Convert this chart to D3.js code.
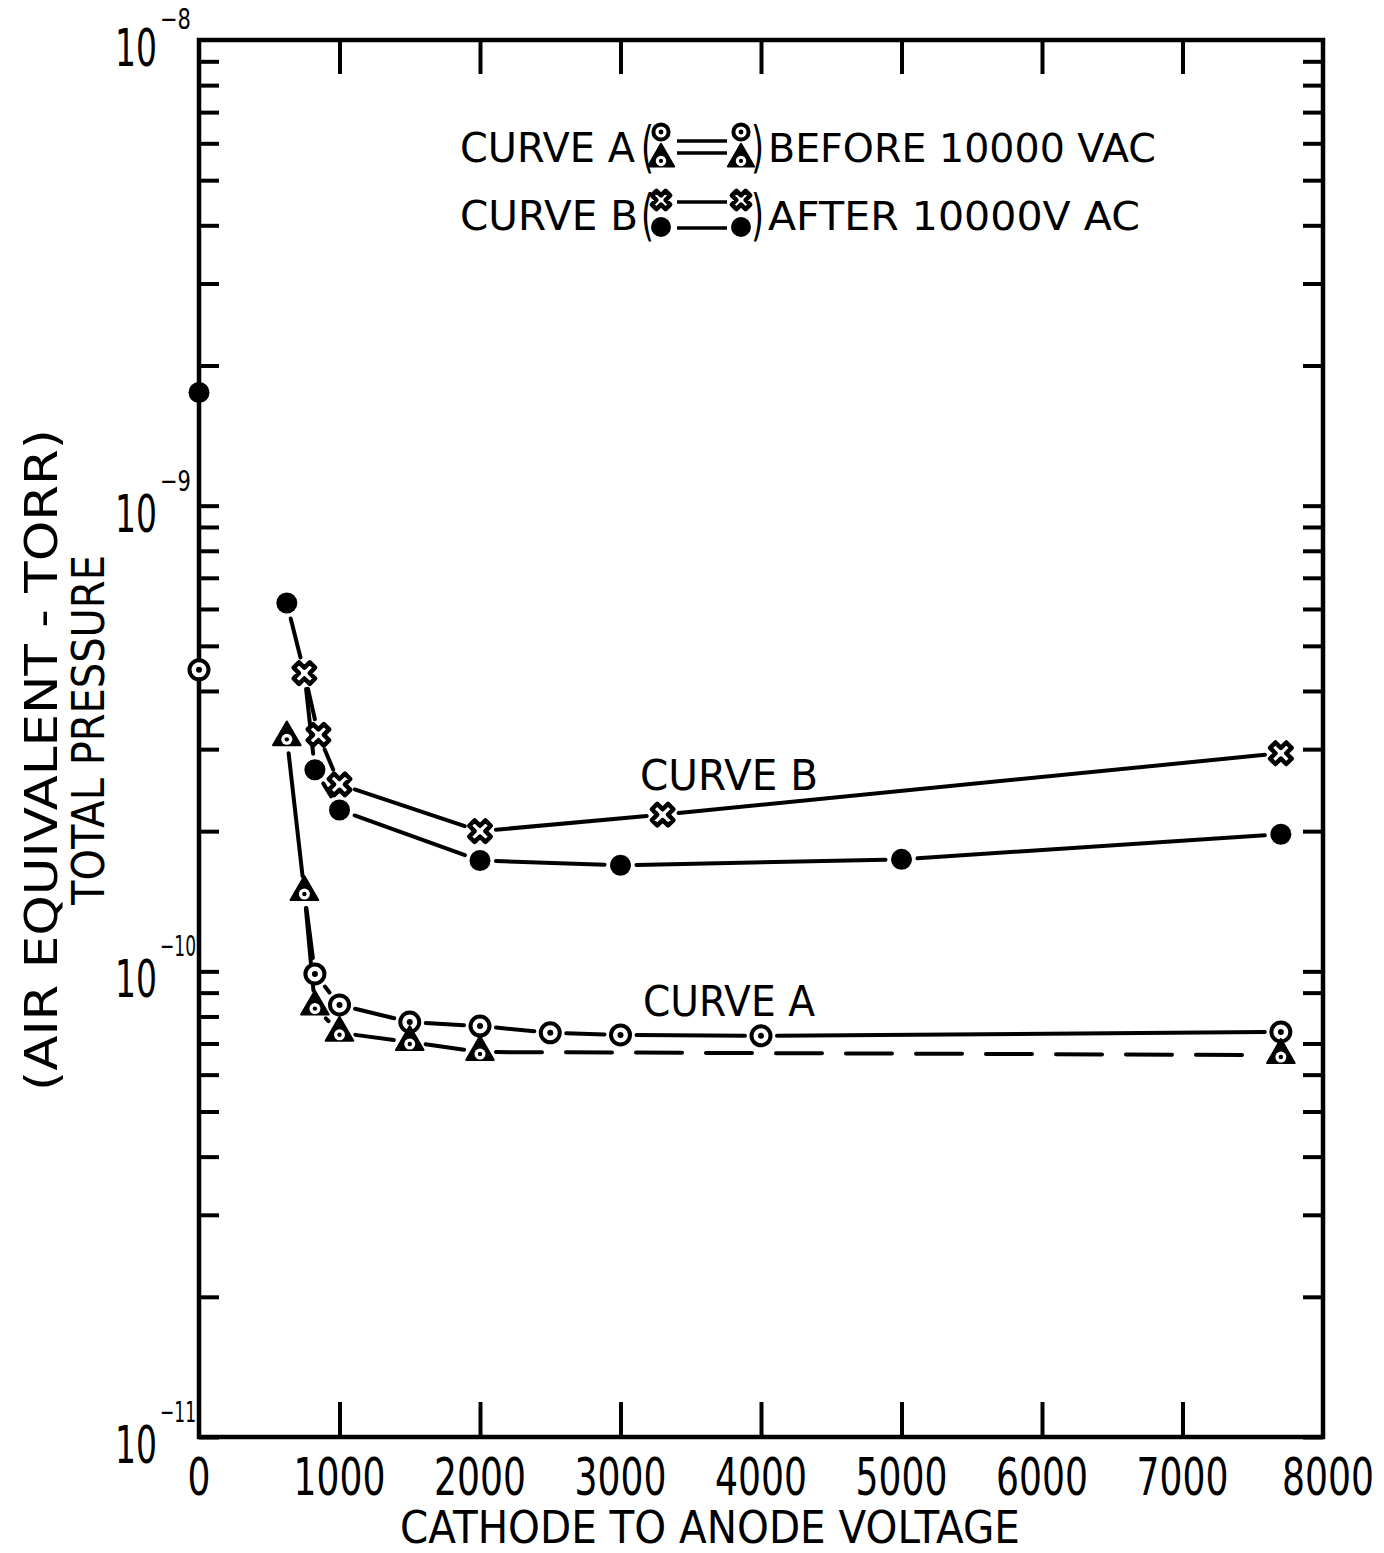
<!DOCTYPE html>
<html>
<head>
<meta charset="utf-8">
<script src="https://cdn.jsdelivr.net/npm/d3@7"></script>
<style>
  html, body { margin: 0; padding: 0; background: #fff; }
  svg { display: block; }
  text { font-family: "DejaVu Sans", "Liberation Sans", sans-serif; fill: #000; }
</style>
</head>
<body>
<svg id="chart" width="1384" height="1553"></svg>
<script>
// ---- data -------------------------------------------------------------
// Curve A, before 10000 V AC : triangles and dotted circles
const triVolts   = [625, 750, 825, 1000, 1500, 2000, 7700];
const triTorr    = [3.18e-10, 1.48e-10, 8.4e-11, 7.38e-11, 7.05e-11, 6.71e-11, 6.61e-11];
const circVolts  = [0, 825, 1000, 1500, 2000, 2500, 3000, 4000, 7700];
const circTorr   = [4.44e-10, 9.87e-11, 8.47e-11, 7.78e-11, 7.63e-11, 7.38e-11, 7.30e-11, 7.27e-11, 7.41e-11];
// Curve B, after 10000 V AC : crosses and filled dots
const crossVolts = [750, 850, 1000, 2000, 3300, 7700];
const crossTorr  = [4.37e-10, 3.22e-10, 2.52e-10, 2.0e-10, 2.17e-10, 2.94e-10];
const dotVolts   = [0, 625, 825, 1000, 2000, 3000, 5000, 7700];
const dotTorr    = [1.75e-9, 6.18e-10, 2.71e-10, 2.22e-10, 1.73e-10, 1.69e-10, 1.74e-10, 1.97e-10];

// axis ticks and labels
const xTickLabels = ["0", "1000", "2000", "3000", "4000", "5000", "6000", "7000", "8000"];
const xTickValues = [0, 1000, 2000, 3000, 4000, 5000, 6000, 7000, 8000];
const yDecadeExp  = [-8, -9, -10, -11];

const legendRows = [
  { name: "CURVE A", text: "BEFORE 10000 VAC", top: "circ", bottom: "tri" },
  { name: "CURVE B", text: "AFTER 10000V AC",  top: "cross", bottom: "dot" }
];

// ---- layout -----------------------------------------------------------
const svg = d3.select("#chart");
const X0 = 199, X1 = 1323, Y0 = 40, Y1 = 1437;
const x = d3.scaleLinear().domain([0, 8000]).range([X0, X1]);
const y = d3.scaleLog().domain([1e-11, 1e-8]).range([Y1, Y0]);

const pts = (xs, ys) => xs.map((v, i) => ({ v, p: ys[i] }));
const tri   = pts(triVolts, triTorr);
const circ  = pts(circVolts, circTorr);
const cross = pts(crossVolts, crossTorr);
const dot   = pts(dotVolts, dotTorr);

// narrow lettering: set a string at a given size, then squeeze it horizontally to a width
function lettering(parent, { x, y, text, size, width, anchor = "start", rotate = 0 }) {
  const g = parent.append("g").attr("transform", `translate(${x},${y}) rotate(${rotate})`);
  const t = g.append("text").attr("font-size", size).attr("text-anchor", anchor).text(text);
  const w = t.node().getComputedTextLength();
  t.attr("transform", `scale(${width / w},1)`);
  return t;
}

// ticks on the log axis (1..9 in each decade)
const minorTicks = [];
for (let e = -11; e < -8; e++) for (let m = 1; m <= 9; m++) minorTicks.push(m * Math.pow(10, e));

// ---- axes ticks ---------------------------------------------------------
const axisStyle = g => {
  g.select(".domain").remove();
  g.selectAll("line").attr("stroke", "#000").attr("stroke-width", 4);
};

svg.append("g").attr("transform", `translate(${X0},0)`)
  .call(d3.axisRight(y).tickValues(minorTicks).tickSizeInner(20).tickSizeOuter(0).tickFormat(""))
  .call(axisStyle);
svg.append("g").attr("transform", `translate(${X1},0)`)
  .call(d3.axisLeft(y).tickValues(minorTicks.filter(t => Math.abs(t / 8e-11 - 1) > 1e-6))
        .tickSizeInner(20).tickSizeOuter(0).tickFormat(""))
  .call(axisStyle);
svg.append("g").attr("transform", `translate(0,${Y0})`)
  .call(d3.axisBottom(x).tickValues(xTickValues.slice(1, -1)).tickSizeInner(34).tickSizeOuter(0).tickFormat(""))
  .call(axisStyle);
svg.append("g").attr("transform", `translate(0,${Y1})`)
  .call(d3.axisTop(x).tickValues(xTickValues.slice(1, -1)).tickSizeInner(35).tickSizeOuter(0).tickFormat(""))
  .call(axisStyle);

// x tick labels
const xLabels = svg.append("g");
xTickValues.forEach((v, i) => {
  const last = i === xTickValues.length - 1;
  lettering(xLabels, {
    x: last ? 1374 : x(v), y: 1495, text: xTickLabels[i], size: 51,
    width: xTickLabels[i].length * 23, anchor: last ? "end" : "middle"
  });
});

// frame
svg.append("rect").attr("x", X0).attr("y", Y0).attr("width", X1 - X0).attr("height", Y1 - Y0)
  .attr("fill", "none").attr("stroke", "#000").attr("stroke-width", 4.5);

// y decade labels with raised exponents
const yLabels = svg.append("g");
yDecadeExp.forEach(e => {
  const yy = y(Math.pow(10, e));
  lettering(yLabels, { x: 157, y: yy + 26, text: "10", size: 52, width: 42, anchor: "end" });
  lettering(yLabels, { x: 160, y: yy - (e === -8 ? 11 : 15), text: "\u2212" + String(-e), size: 29,
    width: e <= -10 ? 36 : 31 });
});

// axis titles
lettering(svg, { x: 710, y: 1543, text: "CATHODE TO ANODE VOLTAGE", size: 45, width: 620, anchor: "middle" });
lettering(svg, { x: 57, y: 760, text: "(AIR EQUIVALENT - TORR)", size: 45, width: 662, anchor: "middle", rotate: -90 });
lettering(svg, { x: 104, y: 730, text: "TOTAL PRESSURE", size: 45, width: 350, anchor: "middle", rotate: -90 });

// ---- connecting lines (stop short of each marker) ----------------------
const P = d => [x(d.v), y(d.p)];
function segment(g, a, b, gapA, gapB, dashed) {
  const [x1, y1] = P(a), [x2, y2] = P(b);
  const dx = x2 - x1, dy = y2 - y1, L = Math.hypot(dx, dy);
  if (L < gapA + gapB + 2) return;
  g.append("line")
    .attr("x1", x1 + dx * gapA / L).attr("y1", y1 + dy * gapA / L)
    .attr("x2", x2 - dx * gapB / L).attr("y2", y2 - dy * gapB / L)
    .attr("stroke", "#000").attr("stroke-width", 4).attr("stroke-linecap", "round")
    .attr("stroke-dasharray", dashed ? "46 24" : null);
}
const lines = svg.append("g");
function polyline(list, dashedFrom) {
  for (let i = 0; i < list.length - 1; i++)
    segment(lines, list[i], list[i + 1], 16, 16, dashedFrom !== undefined && i >= dashedFrom);
}
// curve A: triangles (long dashes beyond 2000 V), dotted circles branch off the 750 V triangle
polyline(tri, 5);
polyline([tri[1]].concat(circ.slice(1)));
// curve B: filled dots run through the 750 V cross; crosses form their own line
polyline([dot[1], cross[0]].concat(dot.slice(2)));
polyline(cross);

// ---- markers -----------------------------------------------------------
const markers = svg.append("g");
const drawCirc = (g, s = 1) => {
  g.append("circle").attr("r", 9.5 * s).attr("fill", "#fff").attr("stroke", "#000").attr("stroke-width", 4);
  g.append("circle").attr("r", 3 * s).attr("fill", "#000");
};
const drawTri = (g, s = 1) => {
  g.append("path").attr("d", d3.symbol(d3.symbolTriangle, 330 * s * s)()).attr("fill", "#000")
    .attr("stroke", "#000").attr("stroke-width", 2).attr("stroke-linejoin", "round");
  g.append("circle").attr("r", 5.5 * s).attr("cy", 2 * s).attr("fill", "#fff");
  g.append("circle").attr("r", 2.2 * s).attr("cy", 2 * s).attr("fill", "#000");
};
const drawCross = (g, s = 1) => {
  g.append("path").attr("d", d3.symbol(d3.symbolCross, 290 * s * s)()).attr("transform", "rotate(45)")
    .attr("fill", "#fff").attr("stroke", "#000").attr("stroke-width", 4.5).attr("stroke-linejoin", "round");
};
const drawDot = (g, s = 1) => {
  g.append("circle").attr("r", 10.5 * s).attr("fill", "#000");
};
const place = (data, fn) => markers.append("g").selectAll("g").data(data).join("g")
  .attr("transform", d => `translate(${P(d)})`).each(function () { fn(d3.select(this)); });
place(circ, drawCirc);
place(tri, drawTri);
place(dot, drawDot);
place(cross, drawCross);

// in-plot curve labels
lettering(svg, { x: 640, y: 790, text: "CURVE B", size: 42, width: 178 });
lettering(svg, { x: 643, y: 1016, text: "CURVE A", size: 42, width: 172 });

// ---- legend -----------------------------------------------------------
const legend = svg.append("g");
const symbolFns = {
  circ: (g) => drawCirc(g, 0.8),
  tri: (g) => drawTri(g, 0.95),
  cross: (g) => drawCross(g, 0.85),
  dot: (g) => drawDot(g, 0.95)
};

legendRows.forEach((row, i) => {
  const base = 162 + i * 68;
  const g = legend.append("g");
  lettering(g, { x: 460, y: base, text: row.name, size: 40, width: i === 0 ? 175 : 178 });
  lettering(g, { x: 641, y: base + 4, text: "(", size: 56, width: 13 });
  lettering(g, { x: 751, y: base + 4, text: ")", size: 56, width: 13 });
  lettering(g, { x: 768, y: base, text: row.text, size: 39, width: i === 0 ? 388 : 372 });
  const topY = base - 30, botY = base - 3;
  [661, 741].forEach(cx => {
    const ts = g.append("g").attr("transform", `translate(${cx},${topY})`);
    symbolFns[row.top](ts);
    const bs = g.append("g").attr("transform", `translate(${cx},${botY})`);
    symbolFns[row.bottom](bs);
  });
  const lineYs = i === 0 ? [base - 21, base - 9] : [base - 28, base - 2];
  lineYs.forEach(ly => g.append("line").attr("x1", 677).attr("x2", 727).attr("y1", ly).attr("y2", ly)
    .attr("stroke", "#000").attr("stroke-width", 3.5));
});
</script>
</body>
</html>
